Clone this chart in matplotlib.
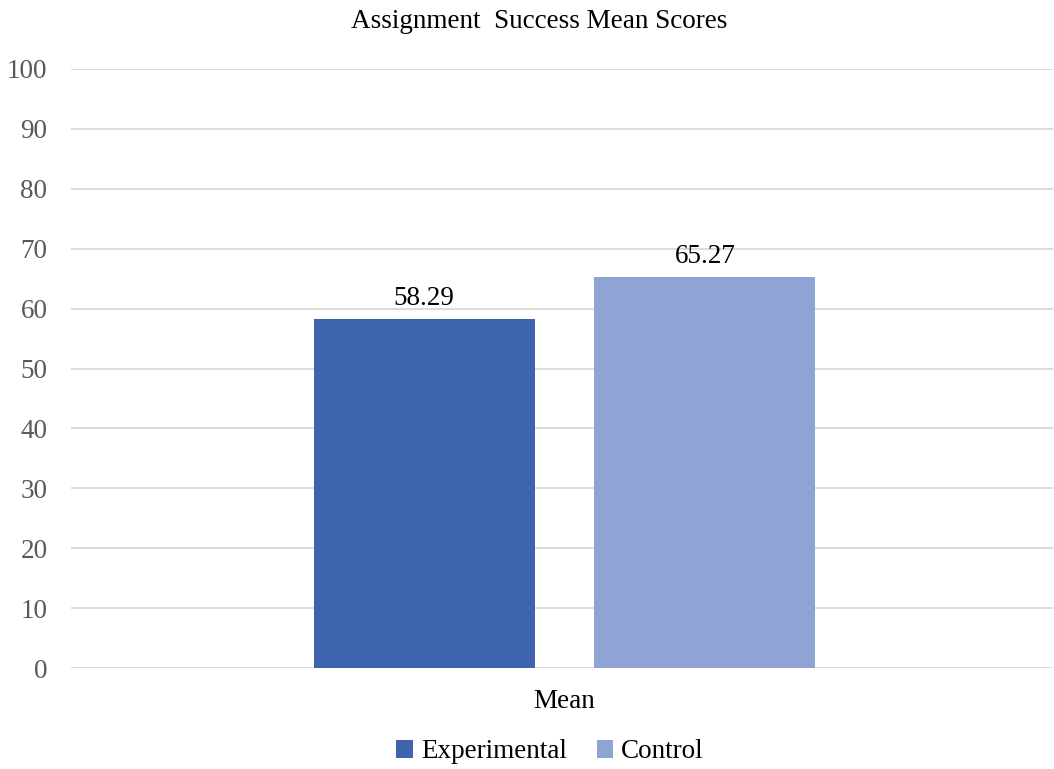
import numpy as np
import matplotlib.pyplot as plt

# Данные
categories = ['Mean']
series = ['Experimental', 'Control']
values = [58.29, 65.27]
colors = ['#3d64ad', '#8fa4d4']

plt.rcParams['font.family'] = ['Liberation Serif', 'DejaVu Serif']
fs = 19.5

fig = plt.figure(figsize=(10.54, 7.69), dpi=100)
ax = fig.add_axes([71 / 1054, 1 - 668 / 769, (1053 - 71) / 1054, (668 - 69) / 769])

x = np.arange(len(categories))
width = 0.225
offsets = [-0.143, 0.143]
for name, val, col, off in zip(series, values, colors, offsets):
    bars = ax.bar(x + off, [val], width, color=col, label=name, zorder=3)
    ax.bar_label(bars, labels=[f'{val:.2f}'], padding=6, fontsize=fs, color='#000000')

ax.set_xlim(-0.5025, 0.4975)
ax.set_ylim(0, 100)
ax.set_yticks(np.arange(0, 101, 10))
ax.set_xticks(x)
ax.set_xticklabels(categories)
ax.grid(axis='y', color='#d9d9d9', linewidth=1.3, zorder=0)
for s in ax.spines.values():
    s.set_visible(False)
ax.tick_params(axis='y', length=0, pad=17, labelsize=fs, labelcolor='#595959')
ax.tick_params(axis='x', length=0, pad=15, labelsize=fs, labelcolor='#000000')

fig.text(539 / 1054, 1 - 22 / 769, 'Assignment  Success Mean Scores', ha='center', va='center', fontsize=fs)
fig.legend(loc='center', bbox_to_anchor=(550 / 1054, 1 - 752 / 769), ncol=2, frameon=False,
           fontsize=fs, handlelength=0.6, handleheight=0.6, handletextpad=0.3, columnspacing=1.1)

fig.savefig('out.png', dpi=100)
